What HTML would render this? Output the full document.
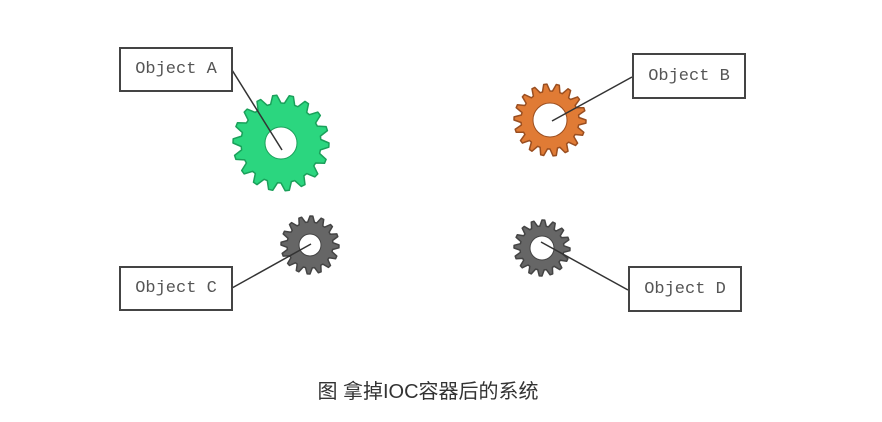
<!DOCTYPE html>
<html><head><meta charset="utf-8"><style>
html,body{margin:0;padding:0;background:#fff;}
body{width:882px;height:422px;position:relative;overflow:hidden;}
.box{position:absolute;border:2px solid #444;background:#fff;box-sizing:border-box;font-family:"Liberation Mono",monospace;font-size:17px;color:#555;display:flex;align-items:center;justify-content:center;}
.cap{position:absolute;left:0;width:856px;top:375px;text-align:center;font-family:"Liberation Sans","Noto Sans CJK SC",sans-serif;font-size:20px;color:#333;}
</style></head><body>
<svg id="s" width="882" height="422" style="position:absolute;left:0;top:0"></svg>
<div class="box" style="left:119px;top:47px;width:114px;height:45px;">Object A</div>
<div class="box" style="left:632px;top:53px;width:114px;height:46px;">Object B</div>
<div class="box" style="left:119px;top:266px;width:114px;height:45px;">Object C</div>
<div class="box" style="left:628px;top:266px;width:114px;height:46px;">Object D</div>
<div class="cap">图 拿掉IOC容器后的系统</div>
<script>
function gear(cx,cy,R,r,hole,n,fill,stroke){
 var d="";var N=n*4;
 for(var i=0;i<N;i++){
  var a=(i/N)*2*Math.PI;var rr=(i%4<2)?R:r;
  d+=(i?"L":"M")+(cx+rr*Math.cos(a)).toFixed(1)+","+(cy+rr*Math.sin(a)).toFixed(1);
 }
 d+="Z";
 return '<path d="'+d+'" fill="'+fill+'" stroke="'+stroke+'" stroke-width="1.5" stroke-linejoin="round"/><circle cx="'+cx+'" cy="'+cy+'" r="'+hole+'" fill="#fff" stroke="'+stroke+'" stroke-width="1"/>';
}
var h="";
h+=gear(281,143,48,40,16,18,"#2bd67f","#1aa05a");
h+=gear(550,120,36,29,17,18,"#e07b35","#9a4e20");
h+=gear(310,245,29,23,11,16,"#666","#444");
h+=gear(542,248,28,22,12,16,"#666","#444");
h+='<g stroke="#333" stroke-width="1.5"><line x1="232" y1="70" x2="282" y2="150"/><line x1="632" y1="77" x2="552" y2="121"/><line x1="232" y1="288" x2="311" y2="244"/><line x1="541" y1="242" x2="628" y2="290"/></g>';
document.getElementById("s").innerHTML=h;
</script>
</body></html>
